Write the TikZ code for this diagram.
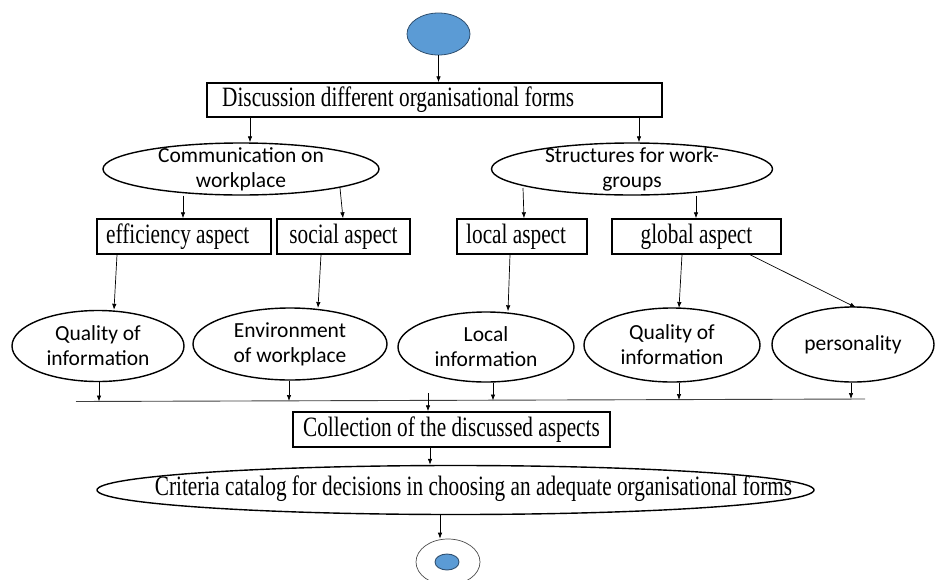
\documentclass[tikz,border=0pt]{standalone}
\usepackage{fontspec}
\setmainfont{Liberation Serif}
\newfontfamily\tnr[FakeStretch=0.76]{Liberation Serif}
\newfontfamily\calfont{Carlito}
\usetikzlibrary{shapes.geometric,arrows.meta}
\definecolor{fillblue}{HTML}{5B9BD5}
\definecolor{edgeblue}{HTML}{2F4F6F}
\begin{document}
\begin{tikzpicture}[x=1pt,y=-1pt,
  box/.style={draw, line width=1.4pt, inner sep=0pt, minimum height=35pt, font=\tnr\fontsize{28}{30}\selectfont},
  stext/.style={font=\tnr\fontsize{28}{30}\selectfont, inner sep=0pt},
  ell/.style={draw, ellipse, line width=1.4pt, inner sep=0pt},
  etext/.style={font=\calfont\fontsize{21.5}{25}\selectfont, align=center, inner sep=0pt},
  arr/.style={-{Latex[length=6pt,width=4.5pt]}, line width=0.7pt}]
\useasboundingbox (0,0) rectangle (935,579);
% start
\node[ell, fill=fillblue, draw=edgeblue, line width=0.8pt, minimum width=63pt, minimum height=42pt] (start) at (438.5,34) {};
\node[box, minimum width=455pt, minimum height=34pt] (disc) at (434.5,100) {};
\node[stext, anchor=west] (disct) at (222,100) {Discussion different organisational forms};
% level 2 ellipses
\node[ell, minimum width=276pt, minimum height=52pt] (comm) at (241,169) {};
\node[etext] (commt) at (241,169) {Communication on\\workplace};
\node[ell, minimum width=281pt, minimum height=52pt] (struc) at (632,169) {};
\node[etext] (struct) at (632,169) {Structures for work-\\groups};
% aspect boxes
\node[box, minimum width=174pt] (eff) at (184,236.5) {};
\node[stext, anchor=west] (efft) at (106,236.5) {efficiency aspect};
\node[box, minimum width=133pt] (soc) at (343.5,236.5) {social aspect};
\node[box, minimum width=130pt] (loc) at (522,236.5) {};
\node[stext, anchor=west] (loct) at (466,236.5) {local aspect};
\node[box, minimum width=169pt] (glob) at (696.5,236.5) {global aspect};
% lower ellipses
\node[ell, minimum width=172pt, minimum height=71pt] (q1) at (98,346) {};
\node[etext] (q1t) at (98,346) {Quality of\\information};
\node[ell, minimum width=194pt, minimum height=72pt] (env) at (290,344) {};
\node[etext] (envt) at (290,344) {Environment\\of workplace};
\node[ell, minimum width=176pt, minimum height=70pt] (li) at (486,347) {};
\node[etext] (lit) at (486,347) {Local\\information};
\node[ell, minimum width=176pt, minimum height=74pt] (q2) at (672,345) {};
\node[etext] (q2t) at (672,345) {Quality of\\information};
\node[ell, minimum width=162pt, minimum height=75pt] (pers) at (853,344.5) {};
\node[etext] (perst) at (853,344.5) {personality};
% collection line
\coordinate (la) at (76,401.5);
\coordinate (lb) at (865,399);
\draw[line width=0.9pt, black!75] (la) -- (lb);
\coordinate (l1) at (99,401.5);
\coordinate (l2) at (289,401);
\coordinate (l3) at (493,400.5);
\coordinate (l4) at (679,400);
\coordinate (l5) at (851,399);
\coordinate (cin) at (428,393);
\node[box, minimum width=317pt, minimum height=35pt] (coll) at (451.5,429.5) {Collection of the discussed aspects};
\node[ell, minimum width=717pt, minimum height=49pt] (crit) at (455.5,490) {};
\node[stext, font=\tnr\fontsize{28}{30}\selectfont] (critt) at (473.5,489) {Criteria catalog for decisions in choosing an adequate organisational forms};
% end
\node[ell, draw=black!70, line width=0.7pt, minimum width=64pt, minimum height=46pt] (endo) at (448,562) {};
\node[ell, fill=fillblue, draw=edgeblue, line width=0.9pt, minimum width=24pt, minimum height=16pt] (endi) at (447,562) {};
% arrows
\draw[arr] (start.south) -- (disc.north -| start.south);
\draw[arr] (disc.south -| 250,0) -- (comm.north -| 250,0);
\draw[arr] (disc.south -| 639,0) -- (struc.north -| 639,0);
\draw[arr] (comm.south -| 183,0) -- (eff.north -| 183,0);
\draw[arr] (340,188) -- (soc.north -| 343,0);
\draw[arr] (523,188) -- (loc.north -| 524,0);
\draw[arr] (struc.south -| 696,0) -- (glob.north -| 696,0);
\draw[arr] (eff.south -| 117,0) -- (q1.north -| 114,0);
\draw[arr] (soc.south -| 321,0) -- (318,308);
\draw[arr] (loc.south -| 510,0) -- (li.north -| 508,0);
\draw[arr] (glob.south -| 682,0) -- (679,308);
\draw[arr] (glob.south -| 750,0) -- (856,307.5);
\draw[arr] (q1.south -| l1) -- (l1);
\draw[arr] (env.south -| l2) -- (l2);
\draw[arr] (li.south -| l3) -- (l3);
\draw[arr] (q2.south -| l4) -- (l4);
\draw[arr] (pers.south -| l5) -- (l5);
\draw[arr] (cin) -- (coll.north -| cin);
\draw[arr] (coll.south -| 430,0) -- (crit.north -| 430,0);
\draw[arr] (crit.south -| 440,0) -- (endo.north -| 440,0);
\end{tikzpicture}
\end{document}
